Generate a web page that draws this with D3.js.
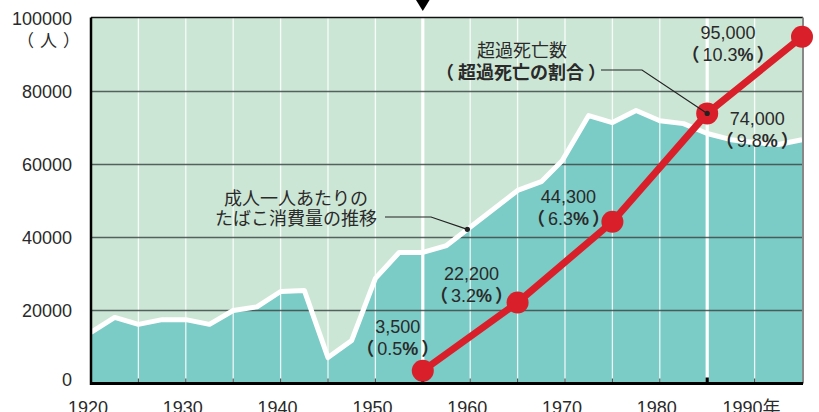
<!DOCTYPE html>
<html><head><meta charset="utf-8">
<script src="https://cdn.jsdelivr.net/npm/d3@7"></script>
<style>
html,body{margin:0;padding:0;background:#fff;}
svg{display:block;}
text{font-family:"Liberation Sans",Arial,"Noto Sans CJK JP",sans-serif;fill:#2a2a2a;}
.jp{font-family:"Noto Sans CJK JP","Liberation Sans",sans-serif;}
</style></head>
<body>
<svg id="c" width="819" height="412"></svg>
<script>
// ---- data ----
const consYears = [1920,1922.5,1925,1927.5,1930,1932.5,1935,1937.5,1940,1942.5,1945,1947.5,1950,1952.5,1955,1957.5,1965,1967.5,1969.7,1972.5,1975,1977.5,1980,1982.5,1985,1987.5,1990,1992.5,1995];
const consValues = [14000,18100,16200,17500,17500,16200,20000,21000,25200,25500,7100,11800,28800,35900,35900,37800,52900,55300,61000,73400,71500,74800,72000,71200,68500,66800,66000,65500,66800];
const excessYears = [1955,1965,1975,1985,1995];
const excessDeaths = [3500,22200,44300,74000,95000];
const excessShare = ["0.5","3.2","6.3","9.8","10.3"];
const yTicks = [0,20000,40000,60000,80000,100000];
const xTickYears = [1920,1930,1940,1950,1960,1970,1980,1990];
const xTickLabels = ["1920","1930","1940","1950","1960","1970","1980","1990年"];
const gridYears = d3.range(1925,1995,5);
const highlightYears = [1955,1985];
// label layout (offsets from point, px)
const labelDx = [-25,-46,-44,50,-74];
const labelDy = [-44,-29,-25,5,-4];

const svg = d3.select("#c");
const x = d3.scaleLinear().domain([1920,1995]).range([91,802]);
const y = d3.scaleLinear().domain([0,100000]).range([383.5,18.5]);
const L = 91, R = 803, T = 17.5, B = 383.5;

// background
svg.append("rect").attr("x",L).attr("y",T).attr("width",R-L).attr("height",B-T).attr("fill","#cce6d5");
const pts = consYears.map((d,i)=>[d,consValues[i]]);
svg.append("path").datum(pts)
  .attr("d", d3.area().x(d=>x(d[0])).y0(y(0)).y1(d=>y(d[1])))
  .attr("fill","#7bcbc6");

// vertical grid
svg.append("g").selectAll("line").data(gridYears).join("line")
  .attr("x1",d=>x(d)).attr("x2",d=>x(d)).attr("y1",T).attr("y2",B)
  .attr("stroke","#fff")
  .attr("stroke-width",d=>highlightYears.includes(d)?3.2:1.3)
  .attr("stroke-opacity",d=>highlightYears.includes(d)?1:0.85);

// horizontal grid
svg.append("g").selectAll("line").data(yTicks.filter(d=>d>0&&d<100000)).join("line")
  .attr("x1",L).attr("x2",R).attr("y1",d=>y(d)).attr("y2",d=>y(d))
  .attr("stroke","#3d4a47").attr("stroke-width",1.6).attr("stroke-opacity",0.85);

// white consumption line
svg.append("path").datum(pts)
  .attr("d", d3.line().x(d=>x(d[0])).y(d=>y(d[1])))
  .attr("fill","none").attr("stroke","#fff").attr("stroke-width",5).attr("stroke-linejoin","round");

// frame
svg.append("line").attr("x1",L).attr("x2",R).attr("y1",T).attr("y2",T).attr("stroke","#111").attr("stroke-width",1.5);
svg.append("line").attr("x1",R).attr("x2",R).attr("y1",T).attr("y2",B).attr("stroke","#888").attr("stroke-width",2);
svg.append("line").attr("x1",L).attr("x2",L).attr("y1",T).attr("y2",B+1.5).attr("stroke","#000").attr("stroke-width",2.5);

// x ticks
svg.append("g").selectAll("line").data(gridYears).join("line")
  .attr("x1",d=>x(d)).attr("x2",d=>x(d)).attr("y1",B).attr("y2",d=>highlightYears.includes(d)?B-6:B-5)
  .attr("stroke",d=>highlightYears.includes(d)?"#000":"#555")
  .attr("stroke-width",d=>highlightYears.includes(d)?3.2:1.2);
svg.append("line").attr("x1",L-1).attr("x2",R).attr("y1",B).attr("y2",B).attr("stroke","#000").attr("stroke-width",3);

// x labels
svg.append("g").selectAll("text").data(xTickYears).join("text")
  .attr("x",d=>x(d)-3).attr("y",413.5).attr("text-anchor","middle")
  .attr("font-size",18).text((d,i)=>xTickLabels[i]);

// y labels
svg.append("g").selectAll("text").data(yTicks).join("text")
  .attr("x",72).attr("y",d=>y(d)+(d===0?-4:0)+6.5).attr("text-anchor","end")
  .attr("font-size",18).text(d=>d);
{
  const t = svg.append("text").attr("class","jp").attr("x",80).attr("y",47).attr("text-anchor","end").attr("font-size",17);
  t.append("tspan").text("（");
  t.append("tspan").attr("dx",6).text("人");
  t.append("tspan").attr("dx",6).text("）");
}

// triangle marker
svg.append("path").attr("d",`M${x(1955)-8},-2L${x(1955)+8},-2L${x(1955)},11Z`).attr("fill","#000");

// red line
const ex = excessYears.map((d,i)=>[d,excessDeaths[i]]);
svg.append("path").datum(ex)
  .attr("d", d3.line().x(d=>x(d[0])).y(d=>y(d[1])))
  .attr("fill","none").attr("stroke","#d9202a").attr("stroke-width",7);
svg.append("g").selectAll("circle").data(ex).join("circle")
  .attr("cx",d=>x(d[0])).attr("cy",d=>y(d[1])).attr("r",11).attr("fill","#d9202a");

// value labels
const lg = svg.append("g");
ex.forEach((d,i)=>{
  const cx = x(d[0])+labelDx[i], cy = y(d[1])+labelDy[i];
  lg.append("text").attr("x",cx).attr("y",cy+6.5).attr("text-anchor","middle").attr("font-size",18)
    .text(d3.format(",")(d[1]));
  const t = lg.append("text").attr("x",cx).attr("y",cy+22+6.5).attr("text-anchor","middle").attr("font-size",18);
  t.append("tspan").attr("class","jp").attr("font-weight","bold").text("（");
  t.append("tspan").attr("dx",3).text(excessShare[i]);
  t.append("tspan").attr("font-weight","bold").text("%");
  t.append("tspan").attr("dx",3).attr("class","jp").attr("font-weight","bold").text("）");
});

// annotation: excess deaths
svg.append("text").attr("class","jp").attr("x",522).attr("y",56.5).attr("text-anchor","middle").attr("font-size",18).text("超過死亡数");
{
  const t = svg.append("text").attr("class","jp").attr("x",521).attr("y",79).attr("text-anchor","middle").attr("font-size",18).attr("font-weight","bold");
  t.append("tspan").text("（");
  t.append("tspan").attr("dx",4).text("超過死亡の割合");
  t.append("tspan").attr("dx",4).text("）");
}
svg.append("path").attr("d",`M601,70H642L${x(1985)},${y(74000)}`).attr("fill","none").attr("stroke","#222").attr("stroke-width",1.2);
svg.append("circle").attr("cx",x(1985)).attr("cy",y(74000)).attr("r",2.6).attr("fill","#222");

// annotation: consumption
svg.append("text").attr("class","jp").attr("x",296).attr("y",204.5).attr("text-anchor","middle").attr("font-size",18).text("成人一人あたりの");
svg.append("text").attr("class","jp").attr("x",296).attr("y",224.5).attr("text-anchor","middle").attr("font-size",18).text("たばこ消費量の推移");
const ax = 1960 - 0.3, ay = d3.scaleLinear().domain([1957.5,1965]).range([37800,52900])(ax);
svg.append("path").attr("d",`M385,217H431L${x(ax)},${y(ay)}`).attr("fill","none").attr("stroke","#222").attr("stroke-width",1.2);
svg.append("circle").attr("cx",x(ax)).attr("cy",y(ay)).attr("r",2.6).attr("fill","#222");
</script>
</body></html>
